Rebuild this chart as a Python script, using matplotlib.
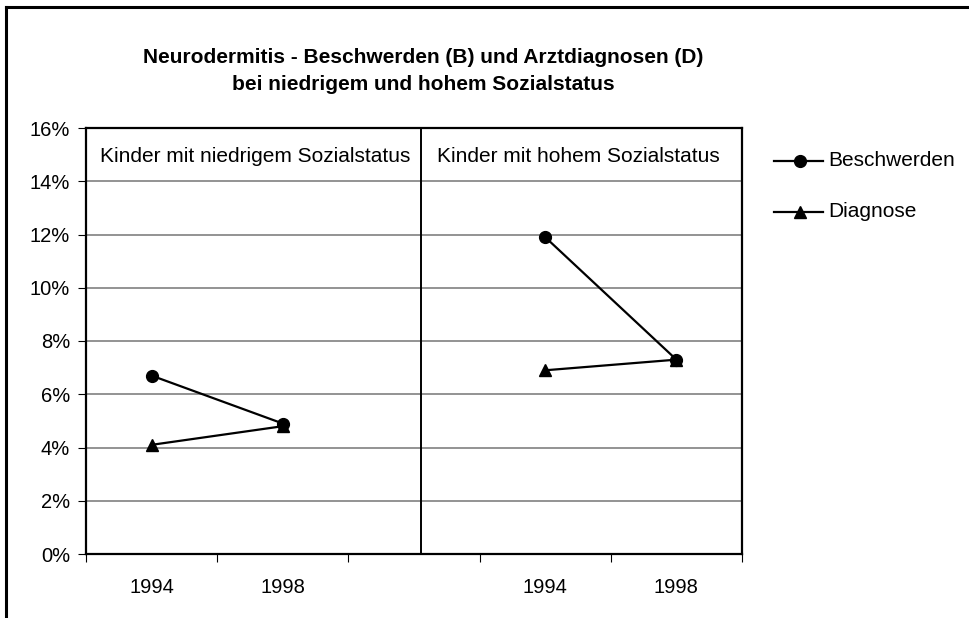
import matplotlib
matplotlib.use('Agg')
import matplotlib.pyplot as plt
from matplotlib.lines import Line2D

plt.rcParams['font.family'] = ['Liberation Sans', 'DejaVu Sans']

# category slots on the x axis (empty slot separates the two groups)
categories = ['1994', '1998', '', '1994', '1998']
low_x = [0, 1]
high_x = [3, 4]

# values in percent
beschwerden_low = [6.7, 4.9]
diagnose_low = [4.1, 4.8]
beschwerden_high = [11.9, 7.3]
diagnose_high = [6.9, 7.3]

panel_labels = ['Kinder mit niedrigem Sozialstatus', 'Kinder mit hohem Sozialstatus']
series_names = ['Beschwerden', 'Diagnose']
yticks = [0, 2, 4, 6, 8, 10, 12, 14, 16]

W, H = 970, 618
fig = plt.figure(figsize=(W / 100, H / 100), dpi=100)
ax = fig.add_axes([86 / W, 1 - 554 / H, 656 / W, 426 / H])

pos = lambda xs: [x + 0.5 for x in xs]

for xs, b, d in [(low_x, beschwerden_low, diagnose_low), (high_x, beschwerden_high, diagnose_high)]:
    ax.plot(pos(xs), d, color='black', lw=1.6, marker='^', ms=8.5, zorder=3)
    ax.plot(pos(xs), b, color='black', lw=1.6, marker='o', ms=8.5, zorder=4)

ax.set_xlim(0, len(categories))
ax.set_ylim(0, 16)
ax.set_yticks(yticks)
ax.set_yticklabels([f'{v}%' for v in yticks], fontsize=14.5)
ax.set_xticks(range(len(categories) + 1))
ax.set_xticklabels([])
ax.set_xticks([i + 0.5 for i in range(len(categories))], minor=True)
ax.set_xticklabels(categories, minor=True, fontsize=14.5)
ax.tick_params(axis='x', which='minor', length=0, pad=17)
ax.tick_params(axis='x', which='major', length=5.5, direction='out', color='black')
ax.tick_params(axis='y', length=5.5, pad=6, direction='out', color='black')

ax.grid(axis='y', color='#808080', lw=1.2)
ax.set_axisbelow(True)
for s in ax.spines.values():
    s.set_linewidth(1.6)
    s.set_color('black')

# divider between groups and panel captions
ax.axvline(2.55, color='black', lw=1.4, zorder=5)
ax.text(1.29, 14.92, panel_labels[0], ha='center', va='center', fontsize=15)
ax.text(3.75, 14.92, panel_labels[1], ha='center', va='center', fontsize=15)

fig.text(423 / W, 1 - 71 / H,
         'Neurodermitis - Beschwerden (B) und Arztdiagnosen (D)\nbei niedrigem und hohem Sozialstatus',
         ha='center', va='center', fontsize=15, fontweight='bold', linespacing=1.5)

# legend drawn by hand to sit exactly where the original has it
for name, mk, ly in zip(series_names, ['o', '^'], [161, 212]):
    y = 1 - ly / H
    fig.add_artist(Line2D([774 / W, 823 / W], [y, y], color='black', lw=1.6))
    fig.add_artist(Line2D([800 / W], [y], color='black', marker=mk, ms=8.5))
    fig.text(828 / W, y, name, ha='left', va='center', fontsize=15)

# outer chart frame (only top and left edges visible)
fig.add_artist(Line2D([6 / W, 6 / W], [0, 1 - 7 / H], color='black', lw=2.2))
fig.add_artist(Line2D([6 / W, 1], [1 - 7 / H, 1 - 7 / H], color='black', lw=2.2))

fig.savefig('out.png', dpi=100)
